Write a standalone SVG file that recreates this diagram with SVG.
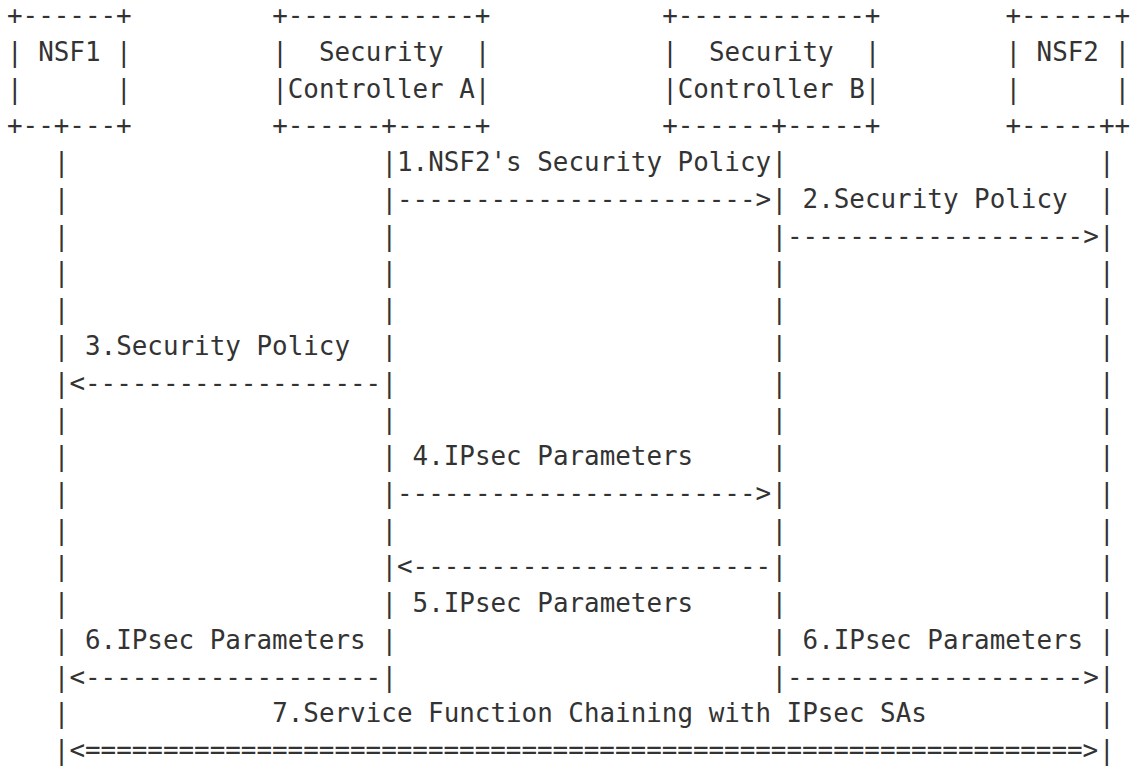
<svg xmlns="http://www.w3.org/2000/svg" width="1134" height="767" viewBox="0 0 1134 767" xml:space="preserve">
<style>
text { font-family: "DejaVu Sans Mono", "Liberation Mono", monospace; font-size: 25.9px; fill: #333333; white-space: pre; }
</style>
<rect x="0" y="0" width="1134" height="767" fill="#ffffff"/>
<g id="nsf1">
<text x="7" y="24">+------+</text>
<text x="7" y="60.75">| NSF1 |</text>
<text x="7" y="97.5">|      |</text>
<text x="7" y="134.25">+--+---+</text>
</g>
<g id="controller-a">
<text x="272.2" y="24">+------------+</text>
<text x="272.2" y="60.75">|  Security  |</text>
<text x="272.2" y="97.5">|Controller A|</text>
<text x="272.2" y="134.25">+------+-----+</text>
</g>
<g id="controller-b">
<text x="662.2" y="24">+------------+</text>
<text x="662.2" y="60.75">|  Security  |</text>
<text x="662.2" y="97.5">|Controller B|</text>
<text x="662.2" y="134.25">+------+-----+</text>
</g>
<g id="nsf2">
<text x="1005.4" y="24">+------+</text>
<text x="1005.4" y="60.75">| NSF2 |</text>
<text x="1005.4" y="97.5">|      |</text>
<text x="1005.4" y="134.25">+-----++</text>
</g>
<g id="connectors">
<g id="lifelines">
<text><tspan x="53.8" y="171">|</tspan><tspan x="53.8" y="207.75">|</tspan><tspan x="53.8" y="244.5">|</tspan><tspan x="53.8" y="281.25">|</tspan><tspan x="53.8" y="318">|</tspan><tspan x="53.8" y="354.75">|</tspan><tspan x="53.8" y="391.5">|</tspan><tspan x="53.8" y="428.25">|</tspan><tspan x="53.8" y="465">|</tspan><tspan x="53.8" y="501.75">|</tspan><tspan x="53.8" y="538.5">|</tspan><tspan x="53.8" y="575.25">|</tspan><tspan x="53.8" y="612">|</tspan><tspan x="53.8" y="648.75">|</tspan><tspan x="53.8" y="685.5">|</tspan><tspan x="53.8" y="722.25">|</tspan><tspan x="53.8" y="759">|</tspan></text>
<text><tspan x="381.4" y="171">|</tspan><tspan x="381.4" y="207.75">|</tspan><tspan x="381.4" y="244.5">|</tspan><tspan x="381.4" y="281.25">|</tspan><tspan x="381.4" y="318">|</tspan><tspan x="381.4" y="354.75">|</tspan><tspan x="381.4" y="391.5">|</tspan><tspan x="381.4" y="428.25">|</tspan><tspan x="381.4" y="465">|</tspan><tspan x="381.4" y="501.75">|</tspan><tspan x="381.4" y="538.5">|</tspan><tspan x="381.4" y="575.25">|</tspan><tspan x="381.4" y="612">|</tspan><tspan x="381.4" y="648.75">|</tspan><tspan x="381.4" y="685.5">|</tspan></text>
<text><tspan x="771.4" y="171">|</tspan><tspan x="771.4" y="207.75">|</tspan><tspan x="771.4" y="244.5">|</tspan><tspan x="771.4" y="281.25">|</tspan><tspan x="771.4" y="318">|</tspan><tspan x="771.4" y="354.75">|</tspan><tspan x="771.4" y="391.5">|</tspan><tspan x="771.4" y="428.25">|</tspan><tspan x="771.4" y="465">|</tspan><tspan x="771.4" y="501.75">|</tspan><tspan x="771.4" y="538.5">|</tspan><tspan x="771.4" y="575.25">|</tspan><tspan x="771.4" y="612">|</tspan><tspan x="771.4" y="648.75">|</tspan><tspan x="771.4" y="685.5">|</tspan></text>
<text><tspan x="1099" y="171">|</tspan><tspan x="1099" y="207.75">|</tspan><tspan x="1099" y="244.5">|</tspan><tspan x="1099" y="281.25">|</tspan><tspan x="1099" y="318">|</tspan><tspan x="1099" y="354.75">|</tspan><tspan x="1099" y="391.5">|</tspan><tspan x="1099" y="428.25">|</tspan><tspan x="1099" y="465">|</tspan><tspan x="1099" y="501.75">|</tspan><tspan x="1099" y="538.5">|</tspan><tspan x="1099" y="575.25">|</tspan><tspan x="1099" y="612">|</tspan><tspan x="1099" y="648.75">|</tspan><tspan x="1099" y="685.5">|</tspan><tspan x="1099" y="722.25">|</tspan><tspan x="1099" y="759">|</tspan></text>
</g>
<g id="msg1">
<text x="397" y="171">1.NSF2's Security Policy</text>
<text x="397" y="207.75">-----------------------&gt;</text>
</g>
<g id="msg2">
<text x="802.6" y="207.75">2.Security Policy</text>
<text x="787" y="244.5">-------------------&gt;</text>
</g>
<g id="msg3">
<text x="85" y="354.75">3.Security Policy</text>
<text x="69.4" y="391.5">&lt;-------------------</text>
</g>
<g id="msg4">
<text x="412.6" y="465">4.IPsec Parameters</text>
<text x="397" y="501.75">-----------------------&gt;</text>
</g>
<g id="msg5">
<text x="397" y="575.25">&lt;-----------------------</text>
<text x="412.6" y="612">5.IPsec Parameters</text>
</g>
<g id="msg6a">
<text x="85" y="648.75">6.IPsec Parameters</text>
<text x="69.4" y="685.5">&lt;-------------------</text>
</g>
<g id="msg6b">
<text x="802.6" y="648.75">6.IPsec Parameters</text>
<text x="787" y="685.5">-------------------&gt;</text>
</g>
<g id="msg7">
<text x="272.2" y="722.25">7.Service Function Chaining with IPsec SAs</text>
<text x="69.4" y="759">&lt;================================================================&gt;</text>
</g>
</g>
</svg>
